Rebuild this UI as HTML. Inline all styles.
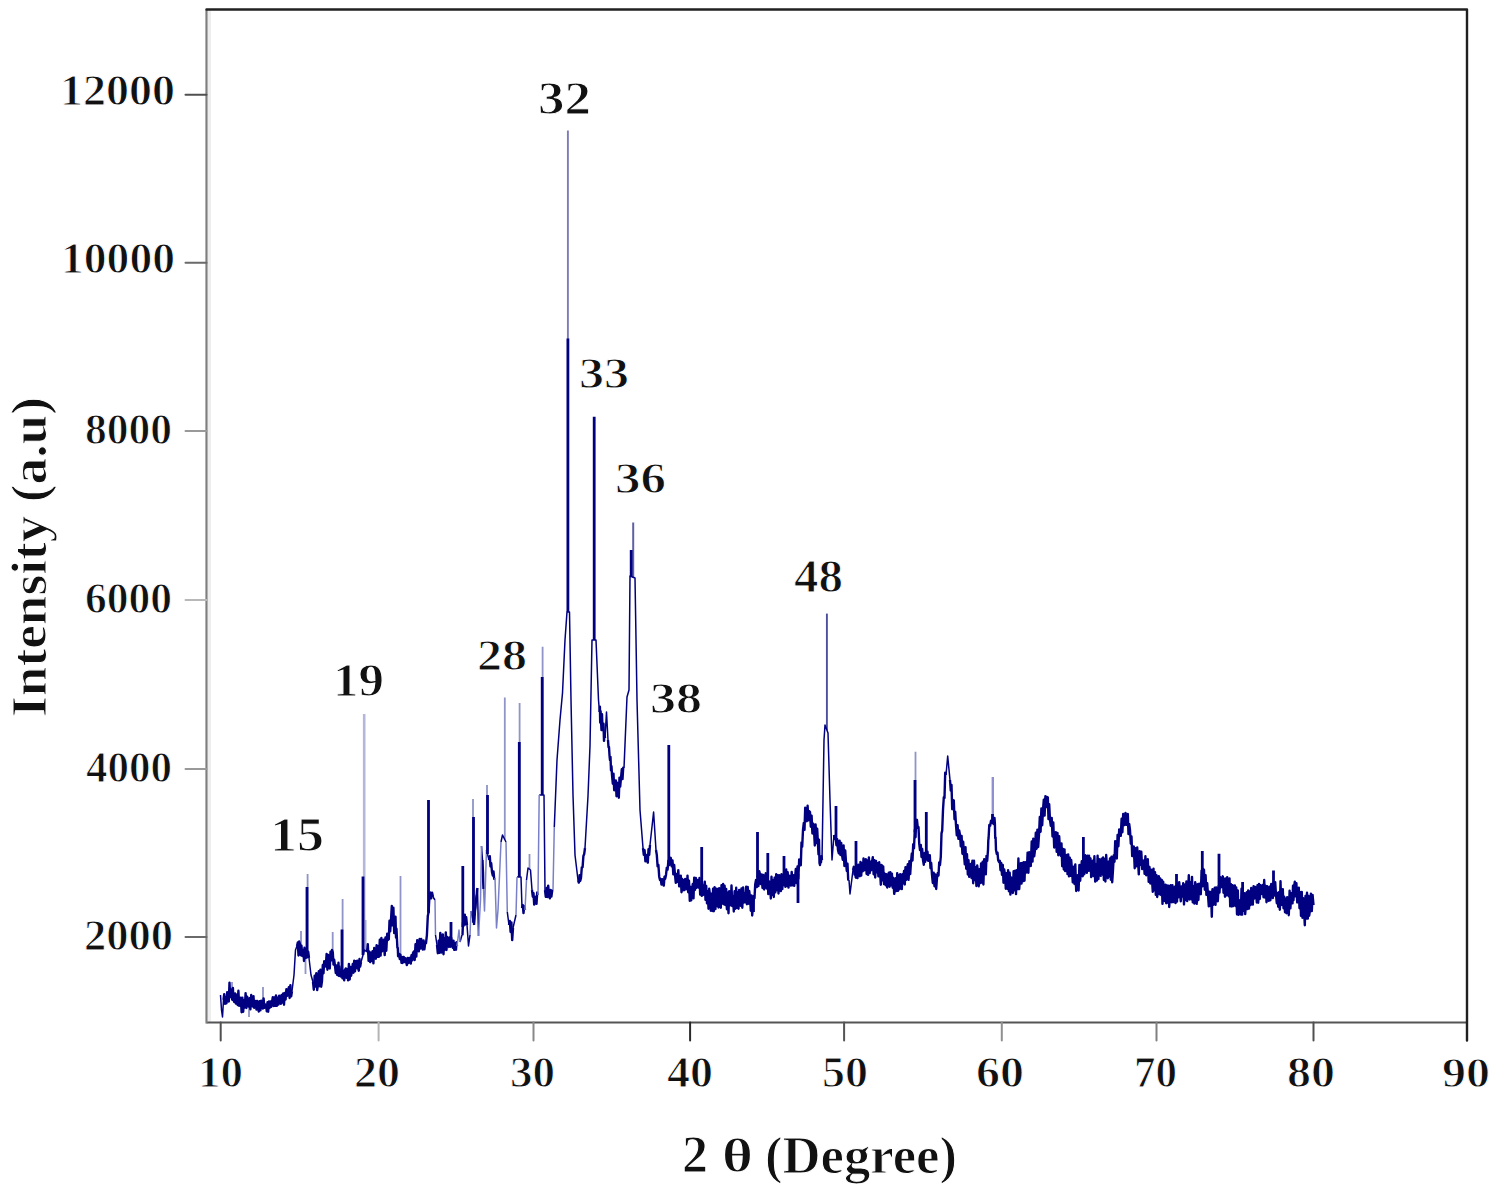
<!DOCTYPE html>
<html><head><meta charset="utf-8"><title>XRD pattern</title>
<style>html,body{margin:0;padding:0;background:#fff;width:1499px;height:1192px;overflow:hidden}svg{display:block}</style>
</head><body>
<svg width="1499" height="1192" viewBox="0 0 1499 1192"><line x1="209.5" y1="9.5" x2="209.5" y2="1022.5" stroke="#ededed" stroke-width="3"/><line x1="206.5" y1="1022.5" x2="1467.0" y2="1022.5" stroke="#555" stroke-width="2.2"/><line x1="206.5" y1="9.5" x2="206.5" y2="1023.5" stroke="#7e7e7e" stroke-width="2.2"/><path d="M206.5 9.5H1467.0V1040.5" fill="none" stroke="#202020" stroke-width="2.4" stroke-linejoin="round" stroke-linecap="round"/><line x1="220.7" y1="1022.5" x2="220.7" y2="1040.5" stroke="#505050" stroke-width="2" stroke-linecap="round"/><line x1="378.6" y1="1022.5" x2="378.6" y2="1040.5" stroke="#b4b4b4" stroke-width="2" stroke-linecap="round"/><line x1="533.5" y1="1022.5" x2="533.5" y2="1040.5" stroke="#888" stroke-width="2" stroke-linecap="round"/><line x1="690.1" y1="1022.5" x2="690.1" y2="1040.5" stroke="#2a2a2a" stroke-width="2" stroke-linecap="round"/><line x1="844.1" y1="1022.5" x2="844.1" y2="1040.5" stroke="#555" stroke-width="2" stroke-linecap="round"/><line x1="1001.8" y1="1022.5" x2="1001.8" y2="1040.5" stroke="#909090" stroke-width="2" stroke-linecap="round"/><line x1="1156.5" y1="1022.5" x2="1156.5" y2="1040.5" stroke="#808080" stroke-width="2" stroke-linecap="round"/><line x1="1313.5" y1="1022.5" x2="1313.5" y2="1040.5" stroke="#505050" stroke-width="2" stroke-linecap="round"/><line x1="185.5" y1="94.8" x2="206.5" y2="94.8" stroke="#505050" stroke-width="2" stroke-linecap="round"/><line x1="185.5" y1="262.8" x2="206.5" y2="262.8" stroke="#6a6a6a" stroke-width="2" stroke-linecap="round"/><line x1="185.5" y1="431.0" x2="206.5" y2="431.0" stroke="#999" stroke-width="2" stroke-linecap="round"/><line x1="185.5" y1="600.0" x2="206.5" y2="600.0" stroke="#b8b8b8" stroke-width="2" stroke-linecap="round"/><line x1="185.5" y1="769.0" x2="206.5" y2="769.0" stroke="#999" stroke-width="2" stroke-linecap="round"/><line x1="185.5" y1="937.0" x2="206.5" y2="937.0" stroke="#6a6a6a" stroke-width="2" stroke-linecap="round"/><path d="M232.0 995.7V982.0M249.0 1004.5V1017.0M263.0 1006.1V987.0M301.0 952.1V931.0M305.5 956.8V974.0M307.6 955.9V874.0M332.7 952.1V932.0M342.6 977.4V899.0M365.5 950.8V920.0M400.5 955.4V876.0M473.0 920.3V799.0M487.0 852.0V785.0M504.8 839.6V697.6M519.6 877.0V703.0M529.5 869.2V854.0M542.6 795.0V646.7M915.5 837.3V751.7" fill="none" stroke="#9094c8" stroke-width="1.8"/><path d="M364.2 951.0V714.0" fill="none" stroke="#b4b6da" stroke-width="2.6"/><path d="M567.9 612.0V130.6" fill="none" stroke="#7c7cb8" stroke-width="1.9"/><path d="M633.2 577.3V522.5" fill="none" stroke="#6060a8" stroke-width="2.0"/><path d="M826.9 730.1V613.6" fill="none" stroke="#4c4ea0" stroke-width="1.9"/><path d="M992.8 818.5V777.0" fill="none" stroke="#9090d0" stroke-width="2.4"/><path d="M223.5 1000.0 L224.2 994.1 L225.0 1003.9 L225.8 997.4 L226.5 1003.2 L227.2 992.1 L228.0 996.0 L228.8 1001.5 L229.5 982.6 L230.2 997.1 L231.0 992.0 L231.6 989.5 L232.2 999.8 L232.9 987.9 L233.5 1000.0 L234.3 1002.0 L235.1 993.4 L235.9 1003.6 L236.8 994.7 L237.6 1005.0 L238.4 990.8 L239.2 1005.9 L240.0 1004.0 L240.8 997.7 L241.6 1012.3 L242.4 997.8 L243.2 1011.7 L244.0 1000.2 L244.8 1007.5 L245.6 993.1 L246.4 1008.0 L247.2 996.7 L248.0 1006.0 L248.8 1006.6 L249.6 998.2 L250.4 1009.4 L251.2 995.0 L252.0 1006.0 L252.8 1006.4 L253.5 996.1 L254.2 1007.9 L255.0 1006.0 L255.8 1000.9 L256.5 1009.6 L257.2 1000.9 L258.0 1007.0 L258.8 1011.5 L259.6 1001.1 L260.4 1010.3 L261.2 1000.6 L262.0 1004.0 L262.8 1008.6 L263.6 998.4 L264.4 1007.8 L265.2 1004.3 L266.0 1005.0 L266.8 1011.4 L267.5 1002.3 L268.2 1011.7 L269.0 1001.4 L269.8 1007.7 L270.5 1001.4 L271.2 1006.7 L272.0 1002.0 L272.8 997.1 L273.6 1006.0 L274.4 997.4 L275.2 1005.8 L276.0 995.4 L276.8 1005.9 L277.6 997.8 L278.4 1004.6 L279.2 995.7 L280.0 998.0 L280.8 1003.8 L281.6 994.9 L282.4 1002.6 L283.2 993.5 L284.0 1004.7 L284.8 992.9 L285.6 999.5 L286.4 989.1 L287.2 995.7 L288.0 994.0 L288.8 987.3 L289.6 998.0 L290.4 985.1 L291.2 996.2 L292.0 991.0M297.0 946.0 L297.8 942.4 L298.5 955.5 L299.2 941.5 L300.0 944.0 L300.8 955.2 L301.5 945.8 L302.2 956.0 L303.0 952.0 L303.5 949.7 L304.0 961.0 L304.5 947.7 L305.0 955.0 L305.8 957.9 L306.6 948.8 L307.4 957.3 L308.2 951.6 L309.0 958.0M313.0 982.0 L313.8 989.7 L314.7 975.6 L315.5 986.5 L316.3 973.3 L317.2 990.1 L318.0 984.0 L318.8 971.3 L319.6 986.3 L320.4 969.8 L321.2 986.7 L322.0 981.0 L322.8 965.0 L323.5 973.3 L324.2 961.2 L325.0 965.0 L325.8 966.5 L326.6 953.9 L327.4 969.8 L328.2 955.0 L329.0 958.0 L329.8 968.5 L330.5 951.7 L331.2 960.5 L332.0 950.0 L332.8 952.3 L333.5 964.6 L334.2 959.8 L335.0 966.0 L335.8 973.0 L336.5 965.4 L337.2 975.0 L338.0 970.0 L338.5 962.7 L339.0 976.0 L339.5 966.5 L340.0 975.0 L340.8 976.4 L341.7 969.4 L342.5 978.3 L343.3 970.6 L344.2 980.3 L345.0 970.0 L345.8 968.4 L346.6 977.8 L347.3 969.2 L348.1 980.4 L348.9 963.9 L349.7 979.5 L350.4 967.0 L351.2 975.7 L352.0 970.0 L352.8 964.0 L353.5 972.7 L354.2 960.8 L355.0 971.3 L355.8 961.3 L356.5 968.1 L357.2 960.6 L358.0 968.0 L358.8 970.7 L359.5 959.0 L360.2 966.6 L361.0 962.0M367.0 952.0 L367.8 944.2 L368.6 960.9 L369.4 951.8 L370.2 962.1 L371.0 952.8 L371.8 960.8 L372.6 951.1 L373.4 963.4 L374.2 948.0 L375.0 953.0 L375.8 958.7 L376.6 945.2 L377.4 956.8 L378.2 946.2 L379.0 956.8 L379.8 939.8 L380.6 955.6 L381.4 938.0 L382.2 951.2 L383.0 950.0 L383.8 939.8 L384.7 955.1 L385.5 937.4 L386.3 950.8 L387.2 933.8 L388.0 940.0 L388.8 939.2 L389.5 920.7 L390.2 931.3 L391.0 920.0 L391.8 905.9 L392.6 925.4 L393.4 907.8 L394.2 933.1 L395.0 918.0 L395.5 916.7 L396.0 937.5 L396.5 928.7 L397.0 940.0 L397.4 947.9 L397.8 947.9 L398.1 956.3 L398.5 955.0 L399.1 953.8 L399.8 959.1 L400.4 954.8 L401.0 958.0 L401.5 962.8 L402.0 957.4 L402.5 963.0 L403.0 957.0 L403.8 957.0 L404.5 962.1 L405.2 958.3 L406.0 960.0 L406.8 965.0 L407.6 957.9 L408.4 963.1 L409.2 958.0 L410.0 958.0 L410.8 963.6 L411.5 955.2 L412.2 960.3 L413.0 953.0 L413.8 951.5 L414.7 960.0 L415.5 944.3 L416.3 956.6 L417.2 940.1 L418.0 948.0 L418.8 951.3 L419.6 939.0 L420.4 948.6 L421.2 939.0 L422.0 945.0 L422.8 949.5 L423.6 940.4 L424.4 949.4 L425.2 942.5 L426.0 943.0 L426.9 935.2 L427.8 916.1 L428.6 912.2 L429.5 895.0 L430.4 892.6 L431.2 898.4 L432.1 892.8 L433.0 897.0M437.0 945.0 L437.8 953.2 L438.7 940.7 L439.5 952.9 L440.3 932.9 L441.2 952.5 L442.0 946.0 L442.8 934.4 L443.5 954.3 L444.2 938.2 L445.0 949.7 L445.8 932.4 L446.5 950.0 L447.2 936.9 L448.0 945.0 L448.8 946.9 L449.6 937.4 L450.4 946.7 L451.2 937.8 L452.0 945.0 L452.8 947.7 L453.5 940.7 L454.2 949.9 L455.0 946.0 L455.5 943.2 L456.0 949.7 L456.5 942.3 L457.0 946.0M462.0 935.0 L462.5 934.4 L463.0 922.2 L463.5 925.7 L464.0 922.0 L464.8 914.7 L465.5 924.5 L466.2 917.3 L467.0 925.0M474.0 925.0 L474.5 919.2 L475.0 910.6 L475.5 907.6 L476.0 900.0 L476.4 896.0 L476.8 894.0 L477.1 889.5 L477.5 888.0M482.5 860.0 L482.8 868.3 L483.0 872.4 L483.2 881.7 L483.5 889.0M489.0 860.0 L489.8 856.2 L490.5 866.5 L491.2 863.2 L492.0 872.0 L492.8 875.6 L493.5 871.4 L494.2 879.0 L495.0 878.0M509.0 925.0 L509.8 920.9 L510.6 932.0 L511.4 922.5 L512.2 940.1 L513.0 928.0M522.0 908.0 L522.8 905.1 L523.5 913.1 L524.2 906.1 L525.0 910.0M532.0 890.0 L532.8 896.7 L533.5 893.1 L534.2 904.6 L535.0 900.0 L535.8 896.6 L536.5 903.9 L537.2 892.5 L538.0 895.0M545.0 890.0 L545.8 896.8 L546.6 888.0 L547.4 897.0 L548.2 885.6 L549.0 895.0 L549.8 898.3 L550.6 890.0 L551.4 896.6 L552.2 890.7 L553.0 890.0M578.0 880.0 L578.8 882.6 L579.5 875.3 L580.2 881.0 L581.0 878.0 L581.8 867.4 L582.6 867.2 L583.4 855.9 L584.2 854.1 L585.0 848.0M599.5 712.0 L599.9 706.7 L600.2 722.5 L600.6 711.1 L601.0 720.0 L601.5 730.1 L602.0 714.3 L602.5 728.9 L603.0 730.0 L603.5 723.7 L604.0 740.9 L604.5 733.1 L605.0 738.0M608.0 740.0 L608.5 747.2 L609.0 747.0 L609.5 755.3 L610.0 760.0 L610.5 756.9 L611.0 770.4 L611.5 766.3 L612.0 775.0 L612.8 783.7 L613.5 773.6 L614.2 790.2 L615.0 785.0 L615.8 780.5 L616.5 796.3 L617.2 782.7 L618.0 788.0 L618.8 797.7 L619.5 777.6 L620.2 786.6 L621.0 778.0 L621.8 769.3 L622.5 779.1 L623.2 767.8 L624.0 768.0M643.0 848.0 L643.8 854.9 L644.6 850.3 L645.4 861.3 L646.2 855.0 L647.0 860.0 L647.8 862.6 L648.5 849.2 L649.2 854.8 L650.0 845.0M656.0 850.0 L656.8 854.9 L657.6 866.3 L658.4 864.9 L659.2 876.7 L660.0 880.0 L660.8 879.1 L661.5 884.5 L662.2 879.1 L663.0 884.0 L663.8 885.6 L664.5 876.8 L665.2 878.8 L666.0 875.0 L666.8 867.6 L667.6 869.7 L668.4 860.8 L669.2 865.0 L670.0 860.0 L670.8 857.8 L671.7 866.4 L672.5 860.4 L673.3 874.4 L674.2 865.0 L675.0 875.0 L675.8 882.8 L676.7 873.9 L677.5 881.9 L678.3 870.1 L679.2 886.4 L680.0 885.0 L680.8 875.7 L681.5 892.2 L682.2 879.0 L683.0 890.2 L683.8 880.1 L684.5 890.1 L685.2 878.9 L686.0 888.0 L686.8 889.2 L687.5 875.6 L688.2 892.3 L689.0 880.7 L689.8 900.9 L690.5 887.0 L691.2 900.4 L692.0 890.0 L692.8 884.0 L693.5 898.4 L694.2 877.7 L695.0 889.9 L695.8 877.9 L696.5 887.8 L697.2 880.0 L698.0 886.0 L698.8 887.6 L699.5 877.9 L700.2 894.6 L701.0 885.1 L701.8 895.8 L702.5 885.1 L703.2 894.9 L704.0 888.0 L704.8 881.7 L705.5 899.9 L706.2 885.9 L707.0 903.4 L707.8 891.5 L708.5 908.7 L709.2 888.8 L710.0 895.0 L710.8 910.7 L711.5 893.6 L712.3 911.0 L713.1 888.8 L713.8 911.2 L714.6 887.3 L715.4 909.1 L716.2 888.7 L716.9 906.0 L717.7 889.0 L718.5 907.5 L719.2 888.2 L720.0 898.0 L720.8 907.7 L721.5 885.2 L722.3 903.6 L723.1 884.0 L723.8 904.2 L724.6 885.7 L725.4 905.1 L726.2 889.0 L726.9 909.2 L727.7 892.6 L728.5 913.2 L729.2 891.2 L730.0 900.0 L730.8 905.4 L731.5 885.5 L732.3 906.1 L733.1 896.8 L733.8 911.5 L734.6 891.3 L735.4 908.8 L736.2 887.8 L736.9 907.7 L737.7 892.3 L738.5 908.8 L739.2 889.9 L740.0 898.0 L740.8 905.8 L741.5 888.4 L742.3 907.7 L743.1 887.4 L743.8 902.5 L744.6 893.1 L745.4 902.4 L746.2 886.6 L746.9 904.2 L747.7 886.9 L748.5 903.8 L749.2 890.9 L750.0 897.0 L750.8 910.8 L751.5 895.5 L752.2 915.5 L753.0 905.0 L753.8 896.0 L754.5 898.1 L755.2 884.5 L756.0 880.0 L756.8 887.1 L757.6 876.3 L758.4 886.1 L759.2 871.2 L760.0 874.0 L760.8 884.1 L761.7 874.5 L762.5 888.0 L763.3 875.0 L764.2 889.5 L765.0 880.0 L765.8 873.2 L766.7 888.5 L767.5 875.7 L768.3 894.1 L769.2 881.5 L770.0 883.0 L770.8 898.5 L771.5 876.7 L772.3 894.8 L773.1 880.2 L773.8 897.0 L774.6 877.7 L775.4 892.4 L776.2 874.3 L776.9 890.0 L777.7 875.3 L778.5 893.5 L779.2 875.1 L780.0 884.0 L780.8 891.1 L781.5 874.2 L782.3 889.1 L783.1 874.6 L783.8 885.1 L784.6 873.8 L785.4 886.9 L786.2 869.5 L786.9 885.7 L787.7 872.3 L788.5 887.6 L789.2 875.7 L790.0 882.0 L790.8 885.6 L791.7 871.9 L792.5 885.3 L793.3 875.3 L794.2 885.9 L795.0 878.0 L795.8 869.0 L796.7 883.1 L797.5 866.5 L798.3 878.6 L799.2 859.5 L800.0 860.0 L800.8 865.2 L801.5 842.4 L802.2 846.6 L803.0 830.0 L803.8 822.9 L804.5 829.9 L805.2 807.7 L806.0 810.0 L806.8 821.2 L807.6 805.8 L808.4 820.4 L809.2 811.2 L810.0 812.0 L810.8 826.7 L811.6 815.6 L812.4 833.5 L813.2 823.6 L814.0 830.0 L814.8 845.5 L815.6 824.5 L816.4 843.0 L817.2 828.8 L818.0 845.0 L818.5 854.4 L819.0 839.8 L819.5 862.9 L820.0 865.0 L820.5 857.9 L821.0 862.4 L821.5 856.2 L822.0 860.0M834.0 835.0 L834.8 838.9 L835.6 835.4 L836.4 845.2 L837.2 839.3 L838.0 850.0 L838.8 853.3 L839.6 840.6 L840.4 855.0 L841.2 842.9 L842.0 855.0 L842.8 859.9 L843.6 845.4 L844.4 866.0 L845.2 850.4 L846.0 862.0 L846.8 871.0 L847.5 863.7 L848.2 879.7 L849.0 880.0M853.0 870.0 L853.8 866.8 L854.5 874.6 L855.2 867.0 L856.0 877.7 L856.8 868.4 L857.5 878.1 L858.2 864.7 L859.0 870.0 L859.8 876.2 L860.5 861.9 L861.2 875.6 L862.0 863.5 L862.8 871.2 L863.5 858.5 L864.2 870.4 L865.0 866.0 L865.8 859.2 L866.6 874.0 L867.3 860.5 L868.1 874.9 L868.9 857.5 L869.7 873.1 L870.4 861.8 L871.2 870.2 L872.0 862.0 L872.8 857.3 L873.6 874.3 L874.4 860.2 L875.2 877.5 L876.0 860.9 L876.8 872.2 L877.6 863.1 L878.4 876.4 L879.2 862.3 L880.0 870.0 L880.8 884.8 L881.6 865.0 L882.4 880.2 L883.2 866.4 L884.0 884.1 L884.8 873.7 L885.6 885.2 L886.4 874.1 L887.2 887.5 L888.0 882.0 L888.8 872.7 L889.6 886.8 L890.3 872.1 L891.1 885.4 L891.9 873.8 L892.7 887.7 L893.4 878.0 L894.2 893.9 L895.0 890.0 L895.8 878.3 L896.5 891.0 L897.2 873.1 L898.0 890.9 L898.8 875.2 L899.5 889.2 L900.2 874.1 L901.0 880.0 L901.8 889.1 L902.5 874.2 L903.2 883.4 L904.0 871.0 L904.8 884.5 L905.5 867.1 L906.2 879.8 L907.0 870.0 L907.8 864.1 L908.6 879.9 L909.4 861.2 L910.2 874.1 L911.0 862.0 L911.8 853.5 L912.5 860.5 L913.2 844.2 L914.0 848.3 L914.8 829.9 L915.5 837.3 L916.2 819.8 L917.0 820.0 L917.8 827.8 L918.5 827.1 L919.2 843.4 L920.0 850.0 L920.8 844.9 L921.5 857.0 L922.2 849.0 L923.0 860.0 L923.8 864.7 L924.5 853.3 L925.2 861.9 L926.0 851.2 L926.8 859.6 L927.5 851.6 L928.2 860.8 L929.0 860.0 L929.8 855.2 L930.5 868.2 L931.2 863.0 L932.0 875.0 L932.8 883.0 L933.7 872.7 L934.5 886.3 L935.3 874.5 L936.2 889.0 L937.0 878.0 L937.8 872.9 L938.5 875.5 L939.2 862.5 L940.0 865.0 L940.8 856.6 L941.5 833.4 L942.2 830.6 L943.0 810.0 L943.8 797.3 L944.5 797.9 L945.2 772.7 L946.0 775.0M950.0 780.0 L950.8 790.6 L951.5 784.9 L952.2 809.2 L953.0 800.0 L953.8 800.3 L954.5 819.3 L955.2 811.6 L956.0 825.0 L956.8 835.4 L957.6 825.2 L958.4 838.9 L959.2 830.5 L960.0 835.0 L960.8 846.4 L961.6 835.9 L962.4 853.7 L963.2 841.7 L964.0 855.0 L964.8 864.4 L965.5 847.1 L966.2 868.7 L967.0 854.3 L967.8 874.5 L968.5 860.1 L969.2 876.9 L970.0 868.0 L970.8 864.0 L971.6 878.1 L972.4 860.7 L973.2 883.3 L974.0 860.8 L974.8 880.1 L975.6 867.1 L976.4 886.0 L977.2 865.5 L978.0 872.0 L978.8 886.4 L979.6 869.2 L980.3 883.1 L981.1 863.4 L981.9 882.6 L982.7 861.7 L983.4 884.5 L984.2 859.1 L985.0 868.0 L985.8 874.4 L986.5 855.9 L987.2 860.8 L988.0 850.0 L988.3 840.4 L988.6 838.0 L989.0 830.4 L989.3 825.0 L990.2 825.8 L991.0 820.7 L991.9 822.8 L992.8 818.3 L993.6 824.0 L994.5 818.0 L994.9 823.5 L995.2 838.0 L995.6 837.5 L996.0 850.0 L996.8 853.9 L997.5 852.6 L998.2 860.3 L999.0 862.0 L999.8 860.8 L1000.5 870.2 L1001.2 863.0 L1002.0 874.8 L1002.8 865.0 L1003.5 882.8 L1004.2 869.4 L1005.0 875.0 L1005.8 888.7 L1006.6 873.2 L1007.3 888.8 L1008.1 870.3 L1008.9 891.2 L1009.7 872.8 L1010.4 894.6 L1011.2 877.5 L1012.0 880.0 L1012.8 893.0 L1013.6 871.3 L1014.4 890.4 L1015.2 870.7 L1016.0 894.1 L1016.8 870.3 L1017.6 889.1 L1018.4 858.5 L1019.2 889.1 L1020.0 878.0 L1020.8 863.3 L1021.5 883.6 L1022.2 862.9 L1023.0 881.3 L1023.8 862.1 L1024.5 880.8 L1025.2 862.2 L1026.0 872.0 L1026.8 872.4 L1027.6 852.6 L1028.4 872.8 L1029.2 852.2 L1030.0 860.0 L1030.8 866.0 L1031.7 841.5 L1032.5 861.6 L1033.3 838.6 L1034.2 856.3 L1035.0 850.0 L1035.8 832.8 L1036.6 848.7 L1037.4 829.6 L1038.2 847.0 L1039.0 835.0 L1039.8 817.0 L1040.6 831.8 L1041.4 808.4 L1042.2 825.2 L1043.0 810.0 L1043.8 799.7 L1044.6 815.6 L1045.4 796.1 L1046.2 807.1 L1047.0 797.0 L1047.8 797.3 L1048.5 819.1 L1049.2 804.3 L1050.0 820.0 L1050.8 825.9 L1051.7 817.9 L1052.5 836.5 L1053.3 822.5 L1054.2 847.5 L1055.0 840.0 L1055.8 832.1 L1056.7 851.9 L1057.5 833.0 L1058.3 855.2 L1059.2 836.2 L1060.0 850.0 L1060.8 855.9 L1061.5 843.5 L1062.2 866.2 L1063.0 848.9 L1063.8 869.5 L1064.5 849.4 L1065.2 871.1 L1066.0 860.0 L1066.8 855.0 L1067.5 874.1 L1068.2 854.4 L1069.0 876.4 L1069.8 857.8 L1070.5 875.9 L1071.2 860.0 L1072.0 870.0 L1072.8 882.3 L1073.7 866.7 L1074.5 884.0 L1075.3 864.4 L1076.2 891.0 L1077.0 880.0 L1077.8 875.1 L1078.6 890.5 L1079.4 865.0 L1080.2 880.7 L1081.0 870.0 L1081.8 861.2 L1082.7 876.3 L1083.5 858.3 L1084.3 874.3 L1085.2 855.2 L1086.0 862.0 L1086.8 872.9 L1087.5 855.8 L1088.2 870.9 L1089.0 855.6 L1089.8 870.8 L1090.5 858.5 L1091.2 877.1 L1092.0 870.0 L1092.8 860.8 L1093.6 876.1 L1094.4 856.3 L1095.2 881.6 L1096.0 864.2 L1096.8 880.6 L1097.6 855.7 L1098.4 879.1 L1099.2 859.2 L1100.0 865.0 L1100.8 875.9 L1101.6 858.6 L1102.3 874.5 L1103.1 857.5 L1103.9 880.0 L1104.7 858.9 L1105.4 881.5 L1106.2 855.0 L1107.0 868.0 L1107.8 878.2 L1108.5 861.8 L1109.2 876.6 L1110.0 858.4 L1110.8 879.8 L1111.5 856.7 L1112.2 882.2 L1113.0 870.0 L1113.8 855.2 L1114.5 861.8 L1115.2 841.1 L1116.0 850.0 L1116.8 858.5 L1117.6 834.9 L1118.4 846.3 L1119.2 829.5 L1120.0 835.0 L1120.8 835.8 L1121.6 818.8 L1122.4 832.2 L1123.2 813.9 L1124.0 825.0 L1124.8 825.0 L1125.5 812.9 L1126.2 824.8 L1127.0 815.0 L1127.8 813.9 L1128.5 834.1 L1129.2 824.0 L1130.0 830.0 L1130.8 843.7 L1131.5 836.5 L1132.2 856.1 L1133.0 850.0 L1133.8 846.5 L1134.7 868.2 L1135.5 848.1 L1136.3 866.4 L1137.2 847.4 L1138.0 860.0 L1138.8 874.4 L1139.7 851.3 L1140.5 864.7 L1141.3 851.7 L1142.2 869.1 L1143.0 862.0 L1143.8 860.6 L1144.6 873.9 L1145.4 856.3 L1146.2 875.2 L1147.0 870.0 L1147.8 859.2 L1148.7 881.9 L1149.5 867.0 L1150.3 883.5 L1151.2 869.6 L1152.0 880.0 L1152.8 891.8 L1153.5 868.6 L1154.2 890.4 L1155.0 872.1 L1155.8 894.9 L1156.5 875.3 L1157.2 897.0 L1158.0 888.0 L1158.8 876.2 L1159.5 894.2 L1160.2 878.5 L1161.0 895.0 L1161.8 880.0 L1162.5 903.9 L1163.2 881.8 L1164.0 893.0 L1164.8 901.1 L1165.5 884.8 L1166.2 903.3 L1167.0 885.5 L1167.8 902.8 L1168.5 885.8 L1169.2 907.0 L1170.0 896.0 L1170.8 885.1 L1171.6 902.2 L1172.4 885.1 L1173.2 902.1 L1174.0 890.0 L1174.8 886.7 L1175.5 903.1 L1176.2 885.8 L1177.0 901.6 L1177.8 883.4 L1178.5 897.3 L1179.2 882.1 L1180.0 892.0 L1180.8 901.3 L1181.6 886.5 L1182.4 896.5 L1183.2 883.3 L1184.0 904.5 L1184.8 884.6 L1185.6 900.0 L1186.4 881.5 L1187.2 901.1 L1188.0 893.0 L1188.8 875.2 L1189.6 899.5 L1190.4 882.1 L1191.2 899.3 L1192.0 876.9 L1192.8 902.4 L1193.6 886.4 L1194.4 903.6 L1195.2 882.1 L1196.0 892.0 L1196.8 903.9 L1197.6 884.3 L1198.4 900.0 L1199.2 883.6 L1200.0 888.0 L1200.8 894.2 L1201.6 870.6 L1202.4 886.4 L1203.2 868.9 L1204.0 870.0 L1204.8 889.7 L1205.6 875.1 L1206.4 894.9 L1207.2 883.2 L1208.0 895.0 L1208.8 906.4 L1209.5 891.7 L1210.2 905.8 L1211.0 891.9 L1211.8 916.8 L1212.5 889.1 L1213.2 904.9 L1214.0 898.0 L1214.8 887.7 L1215.5 904.9 L1216.2 887.5 L1217.0 895.0 L1217.8 901.3 L1218.7 885.9 L1219.5 892.6 L1220.3 877.2 L1221.2 887.2 L1222.0 880.0 L1222.8 876.3 L1223.5 892.7 L1224.2 878.8 L1225.0 896.8 L1225.8 878.5 L1226.5 895.4 L1227.2 877.3 L1228.0 890.0 L1228.8 896.4 L1229.5 878.4 L1230.2 906.3 L1231.0 884.2 L1231.8 906.5 L1232.5 885.1 L1233.2 906.1 L1234.0 900.0 L1234.8 885.4 L1235.5 906.0 L1236.2 887.5 L1237.0 914.3 L1237.8 890.5 L1238.5 914.9 L1239.2 900.1 L1240.0 903.0 L1240.8 914.5 L1241.5 888.8 L1242.2 914.6 L1243.0 893.7 L1243.8 910.9 L1244.5 893.2 L1245.2 914.1 L1246.0 902.0 L1246.8 892.1 L1247.5 909.1 L1248.2 890.5 L1249.0 908.6 L1249.8 891.5 L1250.5 905.1 L1251.2 888.0 L1252.0 900.0 L1252.8 904.6 L1253.6 886.1 L1254.4 898.5 L1255.2 886.9 L1256.0 892.0 L1256.8 902.5 L1257.5 885.1 L1258.2 902.8 L1259.0 883.9 L1259.8 899.0 L1260.5 885.2 L1261.2 894.1 L1262.0 890.0 L1262.8 885.0 L1263.5 897.3 L1264.2 880.0 L1265.0 897.6 L1265.8 886.0 L1266.5 902.2 L1267.2 886.2 L1268.0 892.0 L1268.8 900.9 L1269.6 886.8 L1270.4 900.2 L1271.2 884.0 L1272.0 890.0 L1272.8 898.1 L1273.6 882.7 L1274.4 895.5 L1275.2 882.1 L1276.0 895.0 L1276.8 903.2 L1277.5 893.0 L1278.2 906.8 L1279.0 892.1 L1279.8 909.8 L1280.5 881.3 L1281.2 905.1 L1282.0 900.0 L1282.8 889.1 L1283.5 908.2 L1284.2 896.8 L1285.0 912.2 L1285.8 898.6 L1286.5 913.2 L1287.2 897.1 L1288.0 903.0 L1288.8 915.2 L1289.6 890.7 L1290.4 908.4 L1291.2 893.7 L1292.0 893.0 L1292.5 903.4 L1293.0 885.7 L1293.5 900.3 L1294.0 888.0 L1294.8 881.7 L1295.6 896.4 L1296.4 883.2 L1297.2 902.5 L1298.0 900.0 L1298.8 887.6 L1299.5 908.2 L1300.2 892.2 L1301.0 915.9 L1301.8 892.0 L1302.5 917.8 L1303.2 898.3 L1304.0 908.0 L1304.8 925.3 L1305.5 895.9 L1306.2 918.6 L1307.0 892.8 L1307.8 918.6 L1308.5 896.0 L1309.2 915.7 L1310.0 910.0 L1310.9 893.8 L1311.8 911.1 L1312.6 894.9 L1313.5 905.0" fill="none" stroke="#000080" stroke-width="2.4" stroke-linejoin="round"/><path d="M220.5 995.0 L221.5 1010.0 L222.5 1017.0 L223.5 1000.0M292.0 991.0 L294.0 975.0 L295.5 950.0 L297.0 946.0M309.0 958.0 L311.0 975.0 L313.0 982.0M361.0 962.0 L364.5 950.0 L367.0 952.0M433.0 897.0 L435.0 900.0M435.5 935.0 L437.0 945.0M460.0 942.0 L462.0 935.0M467.0 925.0 L468.5 946.0 L470.0 935.0M471.0 911.0 L474.0 925.0M477.5 888.0 L478.5 936.0M481.5 846.0 L482.5 860.0M486.5 850.0 L489.0 860.0M501.0 842.0 L502.5 835.0 L504.0 838.0 L506.0 842.0M507.3 912.0 L509.0 925.0M513.0 928.0 L516.0 915.0M517.0 877.0 L521.0 877.0 L522.0 908.0M526.5 880.0 L528.0 868.0 L530.5 870.0 L532.0 890.0M539.2 795.0 L544.0 795.0 L545.0 890.0M554.3 827.0 L557.0 760.0 L560.0 720.0 L562.5 693.0 L565.0 640.0 L567.0 612.0 L569.5 612.0 L571.0 700.0 L573.0 795.0 L575.0 855.0 L578.0 880.0M585.0 848.0 L588.0 796.0 L590.0 746.0 L592.0 640.0 L596.0 640.0 L598.5 700.0 L599.5 712.0M605.0 738.0 L606.5 712.0 L608.0 740.0M624.0 768.0 L627.0 697.0 L629.0 690.0 L630.0 576.0 L635.0 578.0 L637.0 700.0 L640.0 810.0 L643.0 848.0M650.0 845.0 L653.6 812.0 L656.0 850.0M822.0 860.0 L824.0 740.0 L825.0 725.0 L828.0 733.0 L830.0 800.0 L832.0 860.0 L834.0 835.0M849.0 880.0 L850.0 894.0 L853.0 870.0M946.0 775.0 L947.7 756.0 L950.0 780.0" fill="none" stroke="#000080" stroke-width="1.5" stroke-linejoin="round"/><path d="M435.0 900.0 L435.5 935.0M457.0 946.0 L459.0 930.0 L460.0 942.0M470.0 935.0 L471.0 911.0M478.5 936.0 L480.5 900.0 L481.5 846.0M483.5 889.0 L484.5 911.0 L486.5 850.0M495.0 878.0 L496.5 928.0 L498.0 910.0 L501.0 842.0M506.0 842.0 L507.3 912.0M516.0 915.0 L517.0 877.0M525.0 910.0 L526.5 880.0M538.0 895.0 L539.2 795.0M553.0 890.0 L554.3 827.0" fill="none" stroke="#7a80c8" stroke-width="1.5" stroke-linejoin="round"/><path d="M307.0 953.1V887.0M342.0 973.0V929.5M363.0 955.1V876.6M428.5 912.8V800.0M451.0 940.0V922.0M462.8 927.1V866.0M473.5 922.7V817.0M487.5 854.0V795.0M519.3 877.0V742.0M542.2 795.0V677.0M567.9 612.0V338.6M594.2 640.0V416.8M631.2 576.5V550.0M668.8 862.9V745.0M701.7 895.1V847.0M753.5 899.0V912.0M757.5 877.7V832.0M767.8 882.3V853.0M784.0 882.8V856.0M798.0 873.8V903.0M836.0 840.3V806.0M856.0 877.7V841.0M915.0 832.3V780.0M926.3 854.6V812.0M992.5 819.7V814.0M1083.4 860.4V837.0M1176.5 891.0V874.0M1202.3 884.4V851.0M1219.0 888.6V853.8M1242.6 904.9V882.0M1273.5 884.6V870.6" fill="none" stroke="#000080" stroke-width="2.8"/><text x="60.00" y="104.50" font-family='"Liberation Serif", serif' font-weight="bold" font-size="45.15" fill="#111" stroke="#fff" stroke-width="1.0" textLength="115.00" lengthAdjust="spacingAndGlyphs">12000</text><text x="61.00" y="272.50" font-family='"Liberation Serif", serif' font-weight="bold" font-size="43.63" fill="#111" stroke="#fff" stroke-width="1.0" textLength="114.00" lengthAdjust="spacingAndGlyphs">10000</text><text x="85.00" y="443.50" font-family='"Liberation Serif", serif' font-weight="bold" font-size="44.25" fill="#111" stroke="#fff" stroke-width="1.0" textLength="87.00" lengthAdjust="spacingAndGlyphs">8000</text><text x="85.00" y="612.50" font-family='"Liberation Serif", serif' font-weight="bold" font-size="44.61" fill="#111" stroke="#fff" stroke-width="1.0" textLength="87.00" lengthAdjust="spacingAndGlyphs">6000</text><text x="86.00" y="781.50" font-family='"Liberation Serif", serif' font-weight="bold" font-size="43.63" fill="#111" stroke="#fff" stroke-width="1.0" textLength="86.00" lengthAdjust="spacingAndGlyphs">4000</text><text x="84.00" y="949.50" font-family='"Liberation Serif", serif' font-weight="bold" font-size="44.25" fill="#111" stroke="#fff" stroke-width="1.0" textLength="89.00" lengthAdjust="spacingAndGlyphs">2000</text><text x="198.00" y="1086.50" font-family='"Liberation Serif", serif' font-weight="bold" font-size="43.33" fill="#111" stroke="#fff" stroke-width="1.0" textLength="45.00" lengthAdjust="spacingAndGlyphs">10</text><text x="354.00" y="1086.50" font-family='"Liberation Serif", serif' font-weight="bold" font-size="43.33" fill="#111" stroke="#fff" stroke-width="1.0" textLength="46.00" lengthAdjust="spacingAndGlyphs">20</text><text x="510.00" y="1086.50" font-family='"Liberation Serif", serif' font-weight="bold" font-size="43.33" fill="#111" stroke="#fff" stroke-width="1.0" textLength="45.00" lengthAdjust="spacingAndGlyphs">30</text><text x="667.00" y="1086.50" font-family='"Liberation Serif", serif' font-weight="bold" font-size="43.33" fill="#111" stroke="#fff" stroke-width="1.0" textLength="46.00" lengthAdjust="spacingAndGlyphs">40</text><text x="822.00" y="1086.50" font-family='"Liberation Serif", serif' font-weight="bold" font-size="43.33" fill="#111" stroke="#fff" stroke-width="1.0" textLength="46.00" lengthAdjust="spacingAndGlyphs">50</text><text x="976.00" y="1086.50" font-family='"Liberation Serif", serif' font-weight="bold" font-size="43.33" fill="#111" stroke="#fff" stroke-width="1.0" textLength="48.00" lengthAdjust="spacingAndGlyphs">60</text><text x="1134.00" y="1086.50" font-family='"Liberation Serif", serif' font-weight="bold" font-size="43.33" fill="#111" stroke="#fff" stroke-width="1.0" textLength="43.00" lengthAdjust="spacingAndGlyphs">70</text><text x="1287.00" y="1086.50" font-family='"Liberation Serif", serif' font-weight="bold" font-size="43.33" fill="#111" stroke="#fff" stroke-width="1.0" textLength="48.00" lengthAdjust="spacingAndGlyphs">80</text><text x="1442.00" y="1086.50" font-family='"Liberation Serif", serif' font-weight="bold" font-size="42.72" fill="#111" stroke="#fff" stroke-width="1.0" textLength="48.00" lengthAdjust="spacingAndGlyphs">90</text><text x="270.00" y="850.50" font-family='"Liberation Serif", serif' font-weight="bold" font-size="47.80" fill="#111" stroke="#fff" stroke-width="1.0" textLength="54.00" lengthAdjust="spacingAndGlyphs">15</text><text x="333.00" y="695.50" font-family='"Liberation Serif", serif' font-weight="bold" font-size="45.49" fill="#111" stroke="#fff" stroke-width="1.0" textLength="51.00" lengthAdjust="spacingAndGlyphs">19</text><text x="477.00" y="669.50" font-family='"Liberation Serif", serif' font-weight="bold" font-size="44.88" fill="#111" stroke="#fff" stroke-width="1.0" textLength="50.00" lengthAdjust="spacingAndGlyphs">28</text><text x="538.00" y="113.50" font-family='"Liberation Serif", serif' font-weight="bold" font-size="47.20" fill="#111" stroke="#fff" stroke-width="1.0" textLength="53.00" lengthAdjust="spacingAndGlyphs">32</text><text x="579.00" y="387.50" font-family='"Liberation Serif", serif' font-weight="bold" font-size="44.88" fill="#111" stroke="#fff" stroke-width="1.0" textLength="50.00" lengthAdjust="spacingAndGlyphs">33</text><text x="615.00" y="492.50" font-family='"Liberation Serif", serif' font-weight="bold" font-size="44.29" fill="#111" stroke="#fff" stroke-width="1.0" textLength="51.00" lengthAdjust="spacingAndGlyphs">36</text><text x="650.00" y="712.50" font-family='"Liberation Serif", serif' font-weight="bold" font-size="44.84" fill="#111" stroke="#fff" stroke-width="1.0" textLength="52.00" lengthAdjust="spacingAndGlyphs">38</text><text x="794.00" y="591.50" font-family='"Liberation Serif", serif' font-weight="bold" font-size="46.00" fill="#111" stroke="#fff" stroke-width="1.0" textLength="49.00" lengthAdjust="spacingAndGlyphs">48</text><text x="682.00" y="1171.50" font-family='"Liberation Serif", serif' font-weight="bold" font-size="52.07" fill="#111" stroke="#fff" stroke-width="1.0" textLength="26.00" lengthAdjust="spacingAndGlyphs">2</text><text x="722.00" y="1171.50" font-family='"Liberation Serif", serif' font-weight="bold" font-size="48.50" fill="#111" stroke="#fff" stroke-width="1.0" textLength="31.00" lengthAdjust="spacingAndGlyphs">θ</text><text x="765.00" y="1172.50" font-family='"Liberation Serif", serif' font-weight="bold" font-size="51.97" fill="#111" stroke="#fff" stroke-width="1.0" textLength="192.00" lengthAdjust="spacingAndGlyphs">(Degree)</text><text transform="translate(46.00,717.00) rotate(-90)" font-family='"Liberation Serif", serif' font-weight="bold" font-size="49.83" fill="#111" stroke="#fff" stroke-width="1.0" textLength="320.00" lengthAdjust="spacingAndGlyphs">Intensity (a.u)</text></svg>
</body></html>
